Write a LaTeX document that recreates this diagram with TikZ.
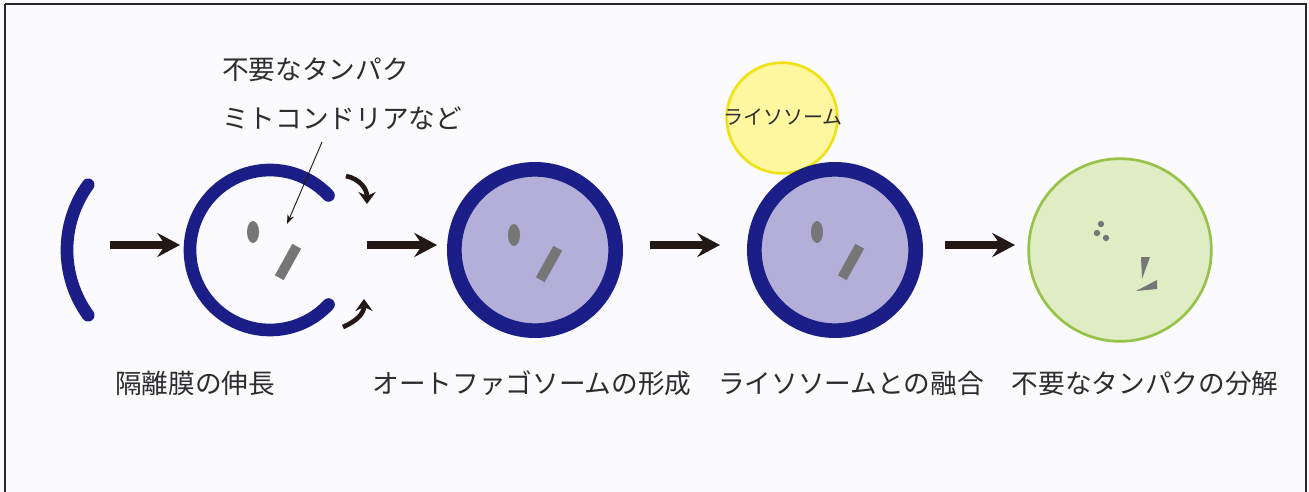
\documentclass[tikz,border=0pt]{standalone}
\usepackage{fontspec}
\setmainfont{Noto Sans CJK JP}
\usetikzlibrary{arrows.meta,shapes.geometric}
\definecolor{membrane}{RGB}{28,30,135}
\definecolor{lumen}{RGB}{180,175,216}
\definecolor{cargo}{RGB}{118,118,118}
\definecolor{ink}{RGB}{35,24,21}
\definecolor{lysofill}{RGB}{255,248,160}
\definecolor{lysoline}{RGB}{240,225,20}
\definecolor{digfill}{RGB}{224,236,196}
\definecolor{digline}{RGB}{150,194,72}
\definecolor{txt}{RGB}{45,45,45}
\tikzset{
  membranepath/.style={draw=membrane, line width=9.5pt, line cap=round},
  vesicle/.style={circle, draw=membrane, line width=11pt, fill=lumen, minimum size=121pt},
  steparrow/.style={draw=ink, line width=5.5pt, -{Stealth[length=17pt,width=18pt,inset=6pt]}},
  closearrow/.style={draw=ink, line width=3.5pt, -{Stealth[length=9pt,width=13pt,inset=3pt]}},
  pointer/.style={draw=ink, line width=0.7pt, -{Stealth[length=7pt,width=5pt]}},
  caption/.style={font=\fontsize{20}{24}\selectfont, text=txt, inner sep=0pt},
  cargoblob/.style={fill=cargo, draw=none},
  oval/.style={cargoblob, ellipse, minimum width=9pt, minimum height=16.5pt, inner sep=0pt},
  rod/.style={cargoblob, rectangle, minimum width=27pt, minimum height=7.5pt, inner sep=0pt, rotate=61},
}
\begin{document}
\begin{tikzpicture}[x=0.75pt,y=-0.75pt]
  % page background and frame
  \useasboundingbox (0,0) rectangle (1309,492);
  \fill[white!98!blue] (0,0) rectangle (1309,492);
  \draw[line width=1.6pt, black!85] (5,4) -- (1306,4) -- (1306,500) (5,4) -- (5,500);

  % stage 1: isolation membrane
  \coordinate (m1) at (178,250);
  \draw[membranepath] (m1) ++(144:111) arc[start angle=144, end angle=216, radius=111];
  \coordinate (s1) at (110,245);
  \coordinate (e1) at (180,245);
  \draw[steparrow] (s1) -- (e1);

  % stage 2: elongating membrane with cargo
  \coordinate (m2) at (270,250);
  \draw[membranepath] (m2) ++(43:80) arc[start angle=43, end angle=317, radius=80];
  \node[oval] (ov2) at (253,232) {};
  \node[rod] (rc2) at (288,262) {};
  \coordinate (c2a) at (346,176);
  \coordinate (c2b) at (367,204);
  \draw[closearrow] (c2a) .. controls (360,179) and (367,189) .. (c2b);
  \coordinate (c2c) at (343,327);
  \coordinate (c2d) at (364,299);
  \draw[closearrow] (c2c) .. controls (357,321) and (364,313) .. (c2d);

  \node[caption, anchor=west] (cargo1) at (222,70) {不要なタンパク};
  \node[caption, anchor=west] (cargo2) at (222,118) {ミトコンドリアなど};
  \coordinate (ptr) at (322,142);
  \coordinate (ptrend) at (287,224);
  \draw[pointer] (ptr) -- (ptrend);

  \coordinate (s2) at (367,245);
  \coordinate (e2) at (437,245);
  \draw[steparrow] (s2) -- (e2);

  % stage 3: autophagosome
  \node[vesicle] (ap) at (535,250) {};
  \node[oval] (ov3) at (514,235) {};
  \node[rod] (rc3) at (549,264) {};

  \coordinate (s3) at (650,245);
  \coordinate (e3) at (720,245);
  \draw[steparrow] (s3) -- (e3);

  % stage 4: fusion with the lysosome
  \node[circle, draw=lysoline, line width=2pt, fill=lysofill, minimum size=83pt] (lyso) at (782,118) {};
  \node[font=\fontsize{15}{18}\selectfont, text=txt, inner sep=0pt] (lysotxt) at (783,117) {ライソソーム};
  \node[vesicle] (ap2) at (835,250) {};
  \node[oval] (ov4) at (817,232) {};
  \node[rod] (rc4) at (851,262) {};

  \coordinate (s4) at (945,245);
  \coordinate (e4) at (1015,245);
  \draw[steparrow] (s4) -- (e4);

  % stage 5: degraded contents
  \node[circle, draw=digline, line width=2pt, fill=digfill, minimum size=137pt] (dig) at (1120,250) {};
  \fill[cargo] (1101,224) circle (2.4pt) (1097,233) circle (2.4pt) (1106,238) circle (2.4pt);
  \fill[cargo] (1141,257) -- (1150,257) -- (1142,279) -- cycle;
  \fill[cargo] (1136,291) -- (1157,280) -- (1157,289) -- cycle;

  % step captions
  \node[caption] (t1) at (195,383) {隔離膜の伸長};
  \node[caption] (t2) at (532,383) {オートファゴソームの形成};
  \node[caption] (t3) at (851,383) {ライソソームとの融合};
  \node[caption] (t4) at (1145,383) {不要なタンパクの分解};
\end{tikzpicture}
\end{document}
